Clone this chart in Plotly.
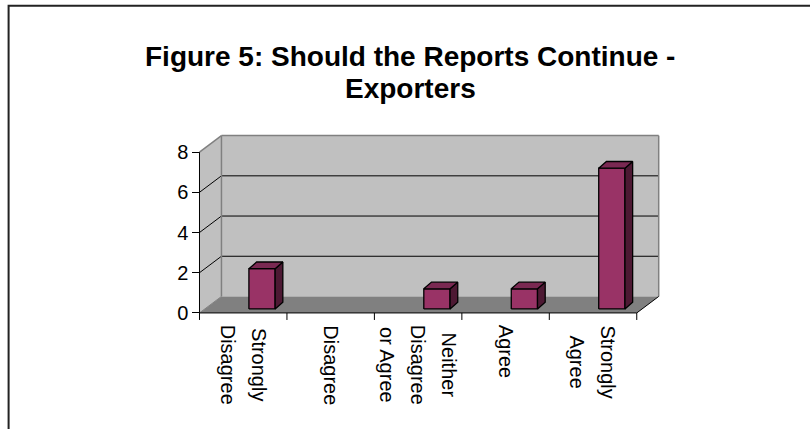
import plotly.graph_objects as go

# ---------------- data ----------------
categories = [["Strongly", "Disagree"], ["Disagree"], ["Neither", "Disagree", "or Agree"],
              ["Agree"], ["Strongly", "Agree"]]
values = [2, 0, 1, 1, 7]
y_ticks = [0, 2, 4, 6, 8]
title_lines = ["Figure 5: Should the Reports Continue -", "Exporters"]

# ---------------- style / geometry (data units) ----------------
W, H = 810, 429
FONT = "Arial, Liberation Sans, sans-serif"
DEPTH_X, DEPTH_Y = 0.251, 0.82      # wall depth offset
BAR_OFF, BAR_W = 0.565, 0.30        # bar front face offset/width within category
BAR_DX, BAR_DY = 0.088, 0.333       # bar depth
BAR_BASE = 0.2
Y_MAX = max(y_ticks)
N = len(values)
XR = [-0.12, 5.3]
YR = [-0.5, 9.0]
ML, MR, MT, MB = 188.5, 147.25, 132.1, 105.95
PW = W - ML - MR
PH = H - MT - MB

FRONT = "#993366"
SIDE = "#4d1933"
TOP = "#7a2952"
WALL = "#c0c0c0"
FLOOR = "#808080"
EDGE = "#808080"

fig = go.Figure()
shapes = []


def px_x(p):
    return (p - ML) / PW


def px_y(p):
    return (H - MB - p) / PH


def poly(pts, fill):
    path = "M " + " L ".join(f"{x},{y}" for x, y in pts) + " Z"
    return dict(type="path", path=path, xref="x", yref="y", fillcolor=fill,
                line=dict(width=0), layer="below")


def seg(x0, y0, x1, y1, color="black", width=1):
    return dict(type="line", xref="x", yref="y", x0=x0, y0=y0, x1=x1, y1=y1,
                line=dict(color=color, width=width), layer="below")


# back wall
shapes.append(poly([(DEPTH_X, DEPTH_Y), (N + DEPTH_X, DEPTH_Y), (N + DEPTH_X, Y_MAX + DEPTH_Y),
                    (DEPTH_X, Y_MAX + DEPTH_Y)], WALL))
# left wall
shapes.append(poly([(0, 0), (DEPTH_X, DEPTH_Y), (DEPTH_X, Y_MAX + DEPTH_Y), (0, Y_MAX)], WALL))
# floor
shapes.append(poly([(0, 0), (N, 0), (N + DEPTH_X, DEPTH_Y), (DEPTH_X, DEPTH_Y)], FLOOR))
# gridlines
for v in y_ticks[1:-1]:
    shapes.append(seg(DEPTH_X, v + DEPTH_Y, N + DEPTH_X, v + DEPTH_Y))
    shapes.append(seg(0, v, DEPTH_X, v + DEPTH_Y))
# wall edges (gray)
shapes.append(seg(0, Y_MAX, DEPTH_X, Y_MAX + DEPTH_Y, EDGE, 1.5))
shapes.append(seg(DEPTH_X, Y_MAX + DEPTH_Y, N + DEPTH_X, Y_MAX + DEPTH_Y, EDGE, 1.5))
shapes.append(seg(N + DEPTH_X, DEPTH_Y, N + DEPTH_X, Y_MAX + DEPTH_Y, EDGE, 1.5))
shapes.append(seg(DEPTH_X, DEPTH_Y, DEPTH_X, Y_MAX + DEPTH_Y, EDGE, 1.5))
shapes.append(seg(0, 0, DEPTH_X, DEPTH_Y, EDGE, 1))
# axes (black)
shapes.append(seg(0, 0, 0, Y_MAX))
shapes.append(seg(0, 0, N, 0))
shapes.append(seg(N, 0, N + DEPTH_X, DEPTH_Y))
for i in range(N + 1):
    shapes.append(seg(i, 0, i, -0.35))

# outer frame
shapes.append(dict(type="rect", xref="paper", yref="paper", x0=px_x(8), x1=px_x(813),
                   y0=px_y(432), y1=px_y(6), line=dict(color="#222222", width=2),
                   fillcolor="rgba(0,0,0,0)", layer="above"))

# bars
for i, v in enumerate(values):
    if v <= 0:
        continue
    xl = i + BAR_OFF
    xr = xl + BAR_W
    yb = BAR_BASE
    yt = BAR_BASE + v
    faces = [
        ([(xl, yb), (xr, yb), (xr, yt), (xl, yt)], FRONT),
        ([(xr, yb), (xr + BAR_DX, yb + BAR_DY), (xr + BAR_DX, yt + BAR_DY), (xr, yt)], SIDE),
        ([(xl, yt), (xr, yt), (xr + BAR_DX, yt + BAR_DY), (xl + BAR_DX, yt + BAR_DY)], TOP),
    ]
    for pts, col in faces:
        xs = [p[0] for p in pts] + [pts[0][0]]
        ys = [p[1] for p in pts] + [pts[0][1]]
        fig.add_trace(go.Scatter(x=xs, y=ys, mode="lines", fill="toself", fillcolor=col,
                                 line=dict(color="black", width=1.3), hoverinfo="skip",
                                 showlegend=False))

annotations = []
# category labels (outer font size sets the line spacing, inner span sets glyph size)
for i, lines in enumerate(categories):
    txt = "<br>".join(f"<span style='font-size:20px'>{ln}</span>" for ln in lines)
    annotations.append(dict(x=i + 0.5, y=0, xref="x", yref="y", showarrow=False,
                            text=txt, textangle=90, xanchor="center",
                            yanchor="top", yshift=-10, align="center",
                            font=dict(family=FONT, size=24, color="black")))

# title lines
for k, (t, ypix) in enumerate(zip(title_lines, [57, 89])):
    annotations.append(dict(x=px_x(410), y=px_y(ypix), xref="paper", yref="paper",
                            showarrow=False, text=f"<b>{t}</b>", xanchor="center",
                            yanchor="middle",
                            font=dict(family=FONT, size=28, color="black")))

fig.update_layout(
    width=W, height=H,
    margin=dict(l=ML, r=MR, t=MT, b=MB, pad=0),
    paper_bgcolor="white", plot_bgcolor="white",
    xaxis=dict(range=XR, visible=False, fixedrange=True),
    yaxis=dict(range=YR, anchor="free", position=(0 - XR[0]) / (XR[1] - XR[0]),
               tickvals=y_ticks, ticktext=[str(t) for t in y_ticks],
               ticks="outside", ticklen=7, tickcolor="black", tickwidth=1,
               showgrid=False, zeroline=False, showline=False, fixedrange=True,
               tickfont=dict(family=FONT, size=20, color="black")),
    shapes=shapes,
    annotations=annotations,
    showlegend=False,
)

fig.write_html("out.html")
